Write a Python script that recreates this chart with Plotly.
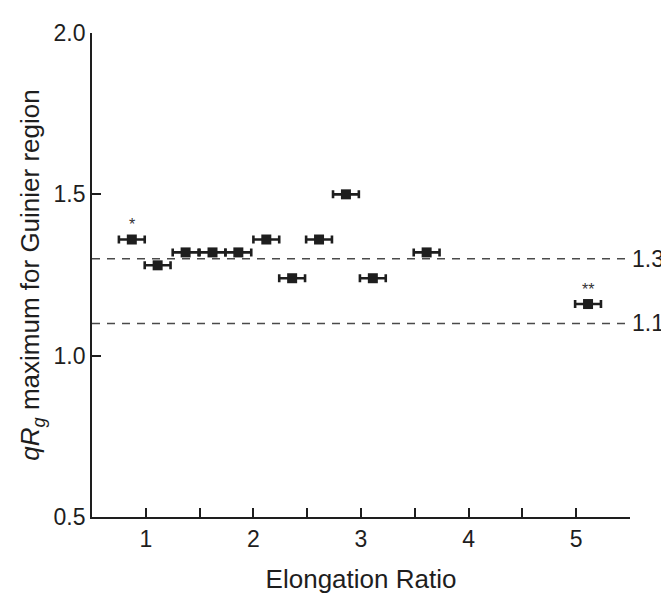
import plotly.graph_objects as go

# Data
elongation_ratio = [0.87, 1.11, 1.37, 1.62, 1.86, 2.12, 2.36, 2.61, 2.86, 3.11, 3.61, 5.11]
qrg_max = [1.36, 1.28, 1.32, 1.32, 1.32, 1.36, 1.24, 1.36, 1.50, 1.24, 1.32, 1.16]
ratio_err = [0.12, 0.12, 0.12, 0.12, 0.12, 0.12, 0.12, 0.12, 0.12, 0.12, 0.12, 0.12]
point_labels = ["*", "", "", "", "", "", "", "", "", "", "", "**"]

ref_levels = [1.3, 1.1]
ref_labels = ["1.3", "1.1"]

x_tickvals = [1, 2, 3, 4, 5]
x_ticktext = ["1", "2", "3", "4", "5"]
x_minor_ticks = [0.5, 1.5, 2.5, 3.5, 4.5, 5.5]
y_tickvals = [0.5, 1.0, 1.5, 2.0]

ink = "#1e1e1e"
font_family = "Liberation Sans, Arial, sans-serif"

fig = go.Figure()
fig.add_trace(go.Scatter(
    x=elongation_ratio, y=qrg_max, mode="markers",
    marker=dict(symbol="square", size=10, color=ink),
    error_x=dict(type="data", array=ratio_err, visible=True,
                 color=ink, thickness=2.6, width=4),
    showlegend=False, hoverinfo="x+y",
))

shapes = []
annotations = []
for lvl, lab in zip(ref_levels, ref_labels):
    shapes.append(dict(type="line", xref="paper", yref="y", x0=0, x1=0.995,
                       y0=lvl, y1=lvl, line=dict(color="#4a4a4a", width=1.5, dash="8px,7px"),
                       layer="below"))
    annotations.append(dict(xref="paper", yref="y", x=1, y=lvl, text=lab,
                            showarrow=False, xanchor="left", yanchor="middle", xshift=0,
                            font=dict(size=23, color=ink, family=font_family)))

for xv, yv, lab in zip(elongation_ratio, qrg_max, point_labels):
    if lab:
        annotations.append(dict(x=xv, y=yv, text=lab, showarrow=False, yshift=15,
                                font=dict(size=16, color="#333333", family=font_family)))

# the page body adds an 8px margin; sizes/offsets below compensate for it
fig.update_layout(
    width=661, height=593,
    margin=dict(l=84, r=39, t=22, b=78),
    paper_bgcolor="white", plot_bgcolor="white",
    font=dict(family=font_family, size=23, color=ink),
    shapes=shapes, annotations=annotations,
    xaxis=dict(range=[0.5, 5.5], tickvals=x_tickvals, ticktext=x_ticktext,
               ticks="inside", ticklen=9, tickwidth=1.5, tickcolor=ink,
               minor=dict(tickvals=x_minor_ticks, ticks="inside", ticklen=9,
                          tickwidth=1.5, tickcolor=ink, showgrid=False),
               showline=True, linewidth=1.8, linecolor=ink, mirror=False,
               showgrid=False, zeroline=False,
               title=dict(text="Elongation Ratio", font=dict(size=26), standoff=19),
               tickfont=dict(size=23)),
    yaxis=dict(range=[0.5, 2.0], tickvals=y_tickvals, tickformat=".1f",
               ticks="inside", ticklen=9, tickwidth=1.5, tickcolor=ink,
               showline=True, linewidth=1.8, linecolor=ink,
               showgrid=False, zeroline=False,
               title=dict(text="<i>qR<sub>g</sub></i> maximum for Guinier region",
                          font=dict(size=26), standoff=6),
               tickfont=dict(size=23)),
)

fig.write_html("out.html")
